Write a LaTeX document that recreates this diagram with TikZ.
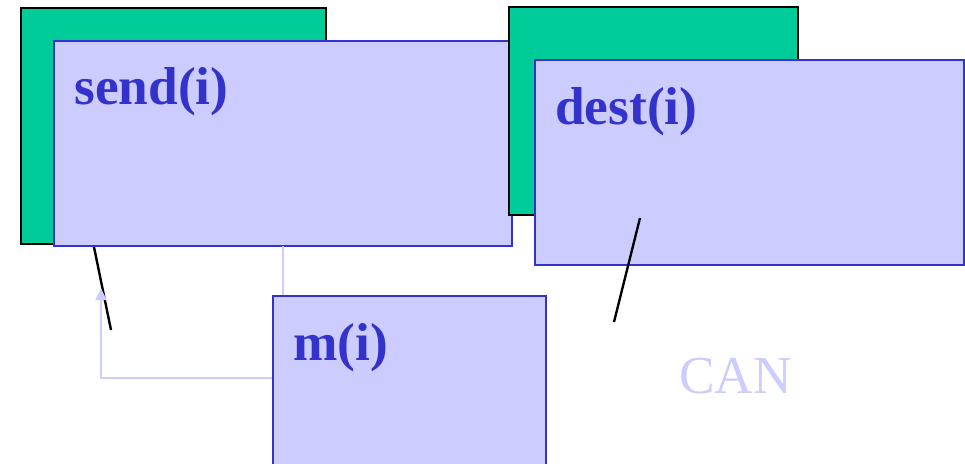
\documentclass[tikz,border=0pt]{standalone}
\usepackage{fontspec}
\setmainfont{Liberation Serif}
\usetikzlibrary{fit,arrows.meta}
\definecolor{cgreen}{HTML}{00CC99}
\definecolor{cfill}{HTML}{CCCCFF}
\definecolor{cborder}{HTML}{3333CC}
\tikzset{
  greenbox/.style={draw=black, line width=1.9pt, fill=cgreen, inner sep=0pt},
  bluebox/.style={draw=cborder, line width=1.9pt, fill=cfill, inner sep=0pt},
  title/.style={anchor=base west, inner sep=0pt, text=cborder, font=\fontsize{40pt}{44pt}\selectfont\bfseries},
  blackline/.style={draw=black, line width=1.8pt},
  lightline/.style={draw=cfill, line width=2pt},
}
\begin{document}
\begin{tikzpicture}[x=0.75pt,y=-0.75pt]
\useasboundingbox (0,0) rectangle (965,464);
\node[greenbox, fit={(21,8)(326,244)}] (g1) {};
\node[bluebox, fit={(54,41)(512,246)}] (send) {};
\node[greenbox, fit={(509,7)(798,215)}] (g2) {};
\node[bluebox, fit={(535,60)(964,265)}] (dest) {};
\node[title] (sendt) at (74,104) {send(i)};
\node[title] (destt) at (555,124) {dest(i)};
\coordinate (a1) at (94,247);
\coordinate (a2) at (111,330);
\draw[blackline] (a1) -- (a2);
\coordinate (b1) at (640,218);
\coordinate (b2) at (614,322);
\draw[blackline] (b1) -- (b2);
\node[bluebox, fit={(273,296)(546,472)}] (m) {};
\node[title] (mt) at (293,360) {m(i)};
\coordinate (s1) at (283,246);
\draw[lightline] (s1) -- (s1 |- m.north);
\coordinate (c1) at (101,378);
\coordinate (c2) at (101,288);
\draw[lightline, -{Triangle[length=9pt,width=8pt]}] (m.west |- c1) -- (c1) -- (c2);
\node[anchor=base west, inner sep=0pt, text=cfill, font=\fontsize{40pt}{44pt}\selectfont] (can) at (679,393) {CAN};
\end{tikzpicture}
\end{document}
